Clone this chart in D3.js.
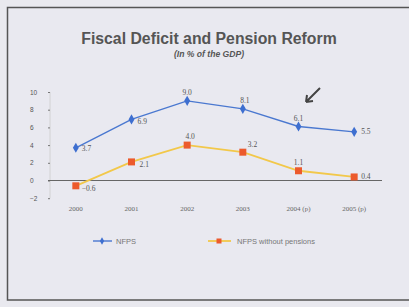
<!DOCTYPE html>
<html>
<head>
<meta charset="utf-8">
<script src="https://cdn.jsdelivr.net/npm/d3@7"></script>
<style>
  body { margin: 0; background: #e9e9ef; }
  svg { display: block; }
</style>
</head>
<body>
<svg id="chart" width="409" height="307"></svg>
<script>
var years = ["2000", "2001", "2002", "2003", "2004 (p)", "2005 (p)"];
var nfps = [3.7, 6.9, 9.0, 8.1, 6.1, 5.5];
var nfpsNoPension = [-0.6, 2.1, 4.0, 3.2, 1.1, 0.4];
var yTicks = [10, 8, 6, 4, 2, 0, -2];
var seriesNames = ["NFPS", "NFPS without pensions"];

var svg = d3.select("#chart");

// frame
svg.append("rect").attr("x", 7.5).attr("y", 7.5).attr("width", 420).attr("height", 292.5)
  .attr("fill", "#e9e9f0").attr("stroke", "#555").attr("stroke-width", 1.5);

// titles
svg.append("text").attr("x", 209).attr("y", 44).attr("text-anchor", "middle")
  .style("font", "bold 15.8px 'Liberation Sans', Arial, sans-serif").attr("fill", "#555")
  .text("Fiscal Deficit and Pension Reform");
svg.append("text").attr("x", 209).attr("y", 57).attr("text-anchor", "middle")
  .style("font", "italic bold 8.6px 'Liberation Sans', Arial, sans-serif").attr("fill", "#555")
  .text("(In % of the GDP)");

var x = d3.scaleBand().domain(years).range([48, 382]);
var y = d3.scaleLinear().domain([-2, 10]).range([198.2, 92]);

function cx(i) { return x(years[i]) + x.bandwidth() / 2; }

// y axis
svg.append("line").attr("x1", 50).attr("x2", 50).attr("y1", y(10)).attr("y2", y(-2))
  .attr("stroke", "#ccc").attr("stroke-width", 0.8);
var yAxis = svg.append("g").attr("transform", "translate(50,0)")
  .call(d3.axisLeft(y).tickValues(yTicks).tickSize(2).tickFormat(d3.format("d")));
yAxis.select(".domain").remove();
yAxis.selectAll(".tick line").attr("stroke", "#777");
yAxis.selectAll("text").attr("x", -20).attr("text-anchor", "start")
  .style("font", "6.5px 'Liberation Sans', Arial, sans-serif").attr("fill", "#555");

// zero line
svg.append("line").attr("x1", 48).attr("x2", 382).attr("y1", y(0)).attr("y2", y(0))
  .attr("stroke", "#666").attr("stroke-width", 1);

// x labels
var xAxis = svg.append("g").attr("transform", "translate(0,203)")
  .call(d3.axisBottom(x).tickSize(0));
xAxis.select(".domain").remove();
xAxis.selectAll("text").style("font", "7px 'Liberation Serif', serif").attr("fill", "#666");

var line = d3.line().x(function(d, i) { return cx(i); }).y(function(d) { return y(d); });

// NFPS without pensions
svg.append("path").datum(nfpsNoPension).attr("d", line).attr("fill", "none")
  .attr("stroke", "#f2c84a").attr("stroke-width", 1.8);
svg.selectAll(".sq").data(nfpsNoPension).enter().append("rect")
  .attr("x", function(d, i) { return cx(i) - 3.5; }).attr("y", function(d) { return y(d) - 3.5; })
  .attr("width", 7).attr("height", 7).attr("fill", "#ec5a2c");

// NFPS
svg.append("path").datum(nfps).attr("d", line).attr("fill", "none")
  .attr("stroke", "#4a78d0").attr("stroke-width", 1.4);
svg.selectAll(".dm").data(nfps).enter().append("path")
  .attr("d", d3.symbol().type(d3.symbolDiamond).size(30))
  .attr("transform", function(d, i) { return "translate(" + cx(i) + "," + y(d) + ")"; })
  .attr("fill", "#3e6fd0");

// data labels
var blueOff = [[6, 3], [6, 5], [0, -6], [2, -6], [0, -6], [7, 2]];
var orangeOff = [[6, 5], [8, 5], [3, -6], [5, -5], [0, -6], [7, 2]];
function lbl(data, off) {
  svg.append("g").selectAll("text").data(data).enter().append("text")
    .attr("x", function(d, i) { return cx(i) + off[i][0]; })
    .attr("y", function(d, i) { return y(d) + off[i][1]; })
    .attr("text-anchor", function(d, i) { return off[i][0] > 3 ? "start" : "middle"; })
    .style("font", "7.5px 'Liberation Serif', serif").attr("fill", "#555")
    .text(function(d) { return d3.format(".1f")(d); });
}
lbl(nfps, blueOff);
lbl(nfpsNoPension, orangeOff);

// arrow
svg.append("path").attr("d", "M320,88 L306,102 M306,102 L307,95 M306,102 L313,101")
  .attr("stroke", "#444").attr("stroke-width", 2).attr("fill", "none");

// legend
var leg = svg.append("g");
leg.append("line").attr("x1", 93).attr("x2", 112).attr("y1", 241).attr("y2", 241)
  .attr("stroke", "#4a78d0").attr("stroke-width", 1.4);
leg.append("path").attr("d", d3.symbol().type(d3.symbolDiamond).size(16)())
  .attr("transform", "translate(102,241)").attr("fill", "#3e6fd0");
leg.append("text").attr("x", 116).attr("y", 243.5).text(seriesNames[0]);
leg.append("line").attr("x1", 208).attr("x2", 231).attr("y1", 241).attr("y2", 241)
  .attr("stroke", "#f2c84a").attr("stroke-width", 1.8);
leg.append("rect").attr("x", 216.5).attr("y", 238.5).attr("width", 5).attr("height", 5)
  .attr("fill", "#ec5a2c");
leg.append("text").attr("x", 237).attr("y", 243.5).text(seriesNames[1]);
leg.selectAll("text").style("font", "7.5px 'Liberation Sans', Arial, sans-serif").attr("fill", "#777");
</script>
</body>
</html>
